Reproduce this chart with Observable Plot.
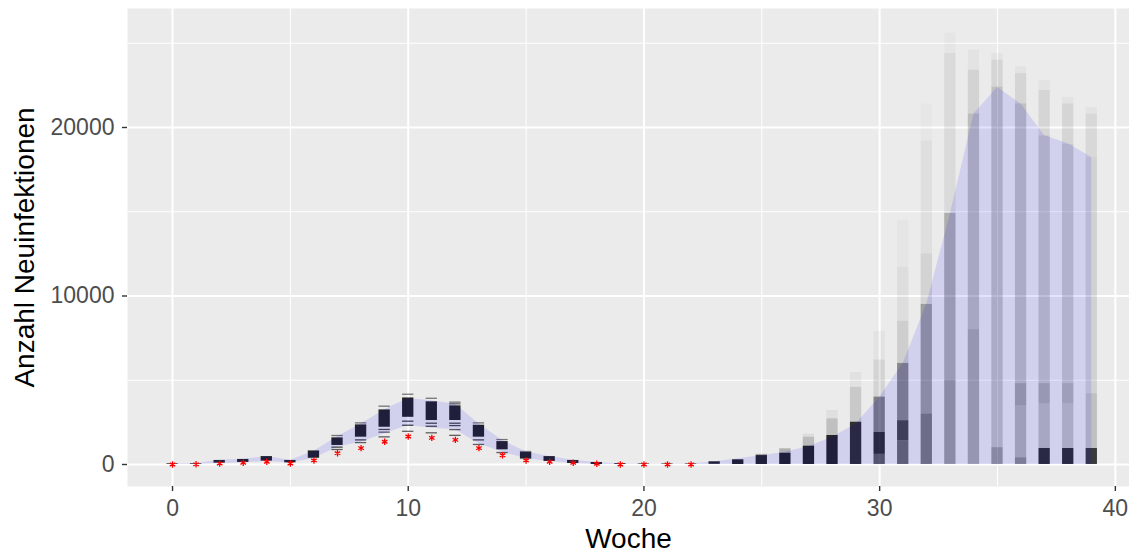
<!DOCTYPE html>
<html>
<head>
<meta charset="utf-8">
<script src="https://cdn.jsdelivr.net/npm/d3@7"></script>
<script src="https://cdn.jsdelivr.net/npm/@observablehq/plot@0.6"></script>
<style>
  html, body { margin: 0; padding: 0; background: #fff; }
  #chart svg { display: block; font-family: "Liberation Sans", Arial, sans-serif; }
</style>
</head>
<body>
<div id="chart"></div>
<script>
// ---- data ----
const weeks = [0,1,2,3,4,5,6,7,8,9,10,11,12,13,14,15,16,17,18,19,20,21,22,23,24,25,26,27,28,29,30,31,32,33,34,35,36,37,38,39];
const ribbonLow  = [0,0,60,100,180,90,350,1030,1320,1820,2310,2150,2060,1230,730,340,180,60,0,0,0,0,0,0,0,0,0,0,0,0,0,0,0,0,0,0,0,0,0,0];
const ribbonHigh = [30,60,250,310,480,250,780,1650,2400,3250,3920,3780,3580,2420,1420,760,470,250,120,50,20,20,30,170,340,530,730,1070,1620,2410,3990,5990,9530,14870,20800,22370,21390,19510,19030,18220];

const obsWeeks = [0,1,2,3,4,5,6,7,8,9,10,11,12,13,14,15,16,17,18,19,20,21,22];
const observed = [0,10,60,100,160,60,240,670,970,1350,1660,1580,1460,970,550,240,160,100,40,0,0,0,0];

// simulated trajectories: density bands [week, low, high, opacity]
const simBands = [
  [0,0,40,0.85],[1,10,50,0.85],[2,80,240,0.85],[3,120,300,0.85],[4,200,470,0.85],[5,100,240,0.85],
  [6,370,770,0.85],[7,1130,1580,0.85],[8,1620,2350,0.85],[9,2210,3240,0.85],[10,2800,3950,0.85],
  [11,2610,3720,0.85],[12,2610,3480,0.85],[13,1620,2330,0.85],[14,870,1360,0.85],[15,320,710,0.85],
  [16,180,470,0.85],[17,60,240,0.85],[18,0,120,0.85],[19,0,50,0.85],[20,0,30,0.85],[21,0,30,0.85],
  [22,0,30,0.85],[23,10,160,0.85],[24,0,280,0.85],
  [25,0,530,0.85],[25,530,600,0.3],
  [26,0,670,0.85],[26,670,930,0.25],
  [27,0,1090,0.85],[27,1090,1620,0.2],[27,1620,1800,0.06],
  [28,0,1720,0.85],[28,1720,2710,0.18],[28,2710,3200,0.05],
  [29,0,2510,0.8],[29,2510,4580,0.14],[29,4580,5470,0.04],
  [30,0,600,0.6],[30,600,1900,0.8],[30,1900,4000,0.45],[30,4000,6200,0.1],[30,6200,7900,0.035],
  [31,0,1400,0.55],[31,1400,2600,0.7],[31,2600,6000,0.42],[31,6000,8500,0.12],[31,8500,11700,0.06],[31,11700,14500,0.025],
  [32,0,3000,0.48],[32,3000,9500,0.33],[32,9500,12500,0.1],[32,12500,19200,0.05],[32,19200,21400,0.02],
  [33,0,5000,0.33],[33,5000,14900,0.26],[33,14900,24400,0.07],[33,24400,25600,0.025],
  [34,0,8000,0.28],[34,8000,20800,0.2],[34,20800,23400,0.1],[34,23400,24600,0.03],
  [35,0,1000,0.35],[35,1000,22400,0.18],[35,22400,24000,0.09],[35,24000,24400,0.03],
  [36,0,400,0.4],[36,400,3500,0.24],[36,3500,4800,0.3],[36,4800,21400,0.18],[36,21400,23200,0.09],[36,23200,23600,0.03],
  [37,0,950,0.8],[37,950,3600,0.2],[37,3600,4800,0.27],[37,4800,19500,0.16],[37,19500,22200,0.09],[37,22200,22800,0.03],
  [38,0,950,0.8],[38,950,3600,0.18],[38,3600,4800,0.24],[38,4800,19000,0.15],[38,19000,21400,0.09],[38,21400,21800,0.03],
  [39,0,950,0.75],[39,950,4200,0.18],[39,4200,18200,0.11],[39,18200,20800,0.08],[39,20800,21200,0.03]
];
// isolated simulated values: [week, value, opacity]
const simLines = [
  [6,820,0.5],
  [7,1720,0.5],[7,1030,0.7],[7,890,0.6],
  [8,2470,0.5],[8,1460,0.7],[8,1300,0.6],
  [9,3460,0.5],[9,2080,0.7],[9,1920,0.6],[9,1640,0.6],
  [10,4170,0.5],[10,2570,0.7],[10,2330,0.7],[10,1970,0.6],
  [11,3930,0.5],[11,2450,0.7],[11,2270,0.7],[11,1880,0.6],
  [12,3700,0.5],[12,3600,0.6],[12,2450,0.7],[12,2310,0.7],[12,2070,0.6],[12,1730,0.6],
  [13,2470,0.5],[13,1460,0.7],[13,1190,0.6],
  [14,1480,0.5],[14,710,0.6],
  [15,770,0.5]
];

const xMajor = [0,10,20,30,40];
const xMinor = [5,15,25,35];
const yMajor = [0,10000,20000];
const yMinor = [5000,15000,25000];

// ---- tables ----
const ribbon = weeks.map((w,i) => ({week: w, low: ribbonLow[i], high: ribbonHigh[i]}));
const obs = obsWeeks.map((w,i) => ({week: w, value: observed[i]}));
const bands = simBands.map(([week, lo, hi, a]) => ({week, lo, hi, a}));
const lines = simLines.map(([week, v, a]) => ({week, v, a}));
const half = 0.24;

const chart = Plot.plot({
  width: 1129,
  height: 554,
  marginLeft: 127,
  marginRight: 0,
  marginTop: 8,
  marginBottom: 68,
  style: {background: "#fff", fontFamily: "Liberation Sans, Arial, sans-serif"},
  x: {domain: [-1.91, 40.6]},
  y: {domain: [-1306, 27062]},
  marks: [
    Plot.frame({fill: "#ebebeb", stroke: null}),
    Plot.ruleX(xMinor, {stroke: "#fff", strokeWidth: 1}),
    Plot.ruleY(yMinor, {stroke: "#fff", strokeWidth: 1}),
    Plot.ruleX(xMajor, {stroke: "#fff", strokeWidth: 2}),
    Plot.ruleY(yMajor, {stroke: "#fff", strokeWidth: 2}),
    Plot.rect(bands, {x1: d => d.week - half, x2: d => d.week + half, y1: "lo", y2: "hi", fill: "#000", fillOpacity: "a"}),
    Plot.ruleY(lines, {y: "v", x1: d => d.week - half, x2: d => d.week + half, stroke: "#000", strokeOpacity: "a", strokeWidth: 1.3}),
    Plot.areaY(ribbon, {x: "week", y1: "low", y2: "high", fill: "#0000ff", fillOpacity: 0.11}),
    Plot.dot(obs, {x: "week", y: "value", symbol: "asterisk", r: 3, stroke: "#ff0000", strokeWidth: 1.3}),
    Plot.axisX({ticks: xMajor, tickSize: 5, tickPadding: 8, fontSize: 23, fill: "#4d4d4d", stroke: "#333", strokeWidth: 1.4, label: null, tickFormat: d => String(d)}),
    Plot.axisY({ticks: yMajor, tickSize: 5, tickPadding: 8, fontSize: 23, fill: "#4d4d4d", stroke: "#333", strokeWidth: 1.4, label: null, tickFormat: d => String(d)}),
    Plot.text(["Woche"], {frameAnchor: "bottom", dy: 53, lineAnchor: "middle", textAnchor: "middle", fontSize: 28, fill: "#000"}),
    Plot.text(["Anzahl Neuinfektionen"], {frameAnchor: "left", dx: -102, rotate: -90, textAnchor: "middle", lineAnchor: "middle", fontSize: 28, fill: "#000"})
  ]
});
document.getElementById("chart").appendChild(chart);
</script>
</body>
</html>
